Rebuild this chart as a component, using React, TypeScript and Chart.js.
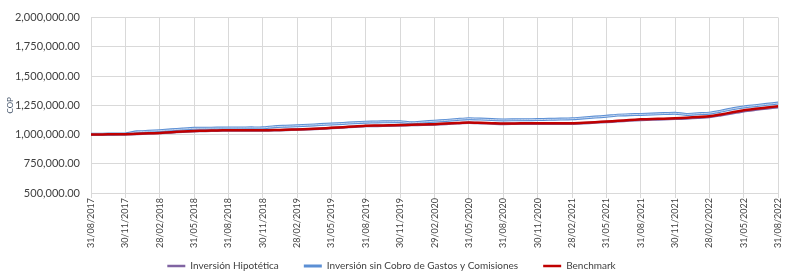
import React, { useEffect, useRef } from "react";
import { Chart, registerables } from "chart.js";

Chart.register(...registerables);

const tickDates = [
  "31/08/2017", "30/11/2017", "28/02/2018", "31/05/2018", "31/08/2018", "30/11/2018",
  "28/02/2019", "31/05/2019", "31/08/2019", "30/11/2019", "29/02/2020", "31/05/2020",
  "31/08/2020", "30/11/2020", "28/02/2021", "31/05/2021", "31/08/2021", "30/11/2021",
  "28/02/2022", "31/05/2022", "31/08/2022",
];

// monthly observations, Aug 2017 .. Aug 2022 (61 points)
const benchmark = [
  1000000, 1001000, 1002000, 1003000, 1006000, 1010000, 1014000, 1020000, 1026000, 1031000,
  1033000, 1035000, 1036000, 1036000, 1036000, 1036000, 1038000, 1041000, 1044000, 1048000,
  1052000, 1057000, 1063000, 1069000, 1075000, 1077000, 1079000, 1081000, 1084000, 1086000,
  1089000, 1094000, 1099000, 1103000, 1100000, 1097000, 1094000, 1095000, 1096000, 1097000,
  1097000, 1097000, 1097000, 1101000, 1106000, 1111000, 1118000, 1124000, 1130000, 1133000,
  1136000, 1139000, 1144000, 1150000, 1156000, 1172000, 1190000, 1208000, 1220000, 1231000,
  1242000,
];

const sinCobro = [
  1002000, 1003000, 1004000, 1005000, 1023000, 1028000, 1033000, 1040000, 1047000, 1053000,
  1054000, 1055000, 1056000, 1056000, 1057000, 1057000, 1067000, 1071000, 1075000, 1080000,
  1085000, 1090000, 1095000, 1101000, 1106000, 1108000, 1109000, 1110000, 1100000, 1107000,
  1114000, 1121000, 1129000, 1136000, 1132000, 1128000, 1125000, 1126000, 1127000, 1128000,
  1130000, 1132000, 1135000, 1142000, 1149000, 1156000, 1166000, 1170000, 1172000, 1175000,
  1179000, 1182000, 1172000, 1178000, 1183000, 1200000, 1220000, 1236000, 1247000, 1258000,
  1269000,
];

const hipotetica = [
  999000, 1000000, 1001000, 1002000, 1005000, 1009000, 1013000, 1018000, 1024000, 1029000,
  1031000, 1033000, 1034000, 1034000, 1034000, 1034000, 1036000, 1039000, 1042000, 1046000,
  1050000, 1055000, 1061000, 1066000, 1072000, 1074000, 1076000, 1078000, 1081000, 1083000,
  1086000, 1091000, 1096000, 1100000, 1097000, 1094000, 1091000, 1092000, 1093000, 1093000,
  1093000, 1093000, 1093000, 1097000, 1102000, 1107000, 1113000, 1119000, 1125000, 1128000,
  1131000, 1134000, 1138000, 1143000, 1149000, 1165000, 1182000, 1200000, 1212000, 1223000,
  1234000,
];

const seriesNames = [
  "Inversión Hipotética",
  "Inversión sin Cobro de Gastos y Comisiones",
  "Benchmark",
];

const FONT = "Lato";
const GAP = "\u2002\u2002\u2002";

export default function App() {
  const ref = useRef<HTMLCanvasElement | null>(null);

  useEffect(() => {
    document.body.style.margin = "0";
    const canvas = ref.current;
    if (!canvas) return;
    const toPts = (arr: number[]) => arr.map((y, i) => ({ x: i, y }));
    const chart = new Chart(canvas, {
      type: "line",
      data: {
        datasets: [
          {
            label: seriesNames[0],
            data: toPts(hipotetica),
            borderColor: "#8064a2",
            backgroundColor: "#8064a2",
            borderWidth: 2.5,
            pointRadius: 0,
            tension: 0.2,
            order: 3,
          },
          {
            label: seriesNames[1],
            data: toPts(sinCobro),
            borderColor: "#5b8fd4",
            backgroundColor: "#5b8fd4",
            borderWidth: 3,
            pointRadius: 0,
            tension: 0.2,
            order: 2,
          },
          {
            label: seriesNames[2],
            data: toPts(benchmark),
            borderColor: "#c00000",
            backgroundColor: "#c00000",
            borderWidth: 2.5,
            pointRadius: 0,
            tension: 0.2,
            order: 0,
          },
          {
            label: "_inner",
            data: toPts(sinCobro),
            borderColor: "#c6d7f0",
            borderWidth: 1,
            pointRadius: 0,
            tension: 0.2,
            order: 1,
          },
        ],
      },
      options: {
        animation: false,
        responsive: false,
        maintainAspectRatio: false,
        layout: { padding: { left: 0, right: 6, top: 9, bottom: -6 } },
        plugins: {
          tooltip: { enabled: false },
          legend: {
            position: "bottom",
            labels: {
              usePointStyle: true,
              pointStyle: "line",
              pointStyleWidth: 18,
              boxHeight: 10,
              padding: 10,
              color: "#404040",
              font: { family: FONT, size: 10 },
              generateLabels: (c: any) => {
                const base = Chart.defaults.plugins.legend.labels.generateLabels(c);
                return base
                  .filter((it: any) => it.text !== "_inner")
                  .sort((a: any, b: any) => a.datasetIndex - b.datasetIndex)
                  .map((it: any) => ({
                    ...it,
                    text: it.datasetIndex < 2 ? it.text + GAP : it.text,
                  }));
              },
            },
          },
        },
        scales: {
          x: {
            type: "linear",
            min: 0,
            max: 60,
            afterBuildTicks: (scale: any) => {
              scale.ticks = tickDates.map((_, i) => ({ value: i * 3 }));
            },
            afterFit: (scale: any) => {
              scale.height = 58;
            },
            ticks: {
              autoSkip: false,
              minRotation: 90,
              maxRotation: 90,
              color: "#404040",
              font: { family: FONT, size: 9 },
              padding: 0,
              callback: (v: any) => tickDates[Math.round(Number(v) / 3)] ?? "",
            },
            grid: { color: "#d9d9d9", lineWidth: 1, tickLength: 5 },
            border: { color: "#d9d9d9" },
          },
          y: {
            min: 500000,
            max: 2000000,
            afterFit: (scale: any) => {
              scale.width = 91;
            },
            ticks: {
              stepSize: 250000,
              color: "#404040",
              font: { family: FONT, size: 11 },
              padding: 11,
              callback: (v: any) =>
                Number(v).toLocaleString("en-US", { minimumFractionDigits: 2, maximumFractionDigits: 2 }),
            },
            grid: { color: "#d9d9d9", lineWidth: 1, drawTicks: false },
            border: { color: "#d9d9d9" },
            title: {
              display: true,
              text: "COP",
              color: "#44546a",
              font: { family: FONT, size: 8 },
              padding: { top: 6, bottom: 0 },
            },
          },
        },
      },
    });
    return () => chart.destroy();
  }, []);

  return (
    <div style={{ width: 789, height: 275, background: "#fff" }}>
      <canvas ref={ref} width={789} height={275} style={{ display: "block" }} />
    </div>
  );
}
